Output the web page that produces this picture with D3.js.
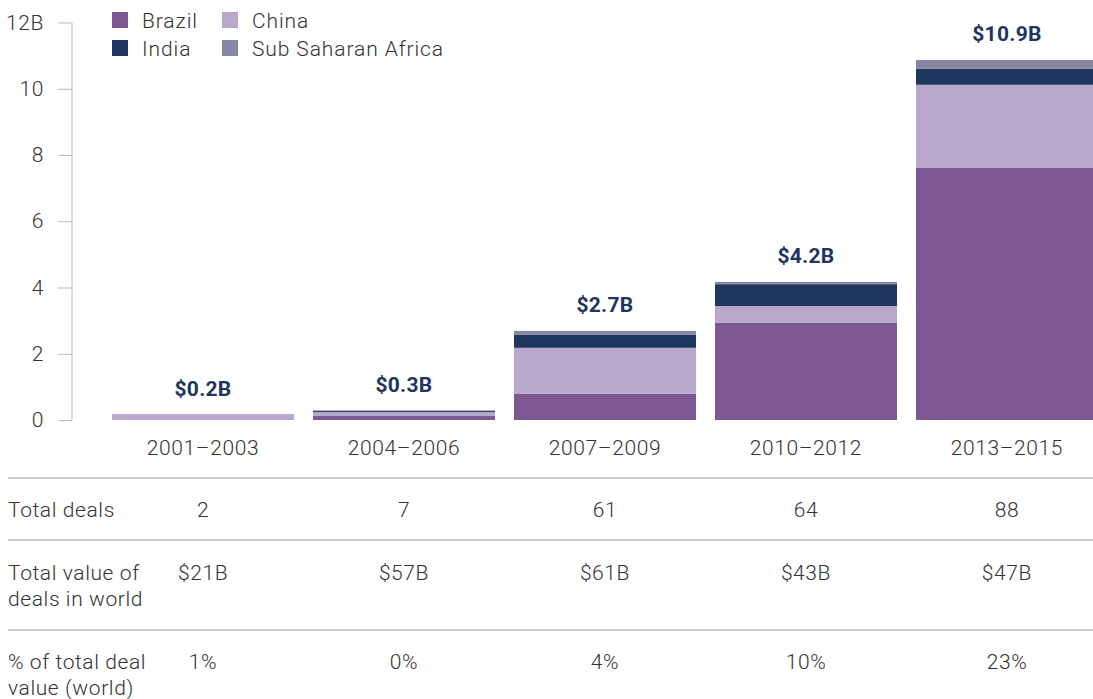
<!DOCTYPE html>
<html><head><meta charset="utf-8">
<script src="https://cdn.jsdelivr.net/npm/d3@7/dist/d3.min.js"></script>
<style>
body{margin:0;background:#fff;}
svg{display:block;}
text{font-family:Roboto,"Noto Sans",sans-serif;}
</style></head>
<body><svg id="c" width="1093" height="699"></svg>
<script>
const categories = ["2001–2003","2004–2006","2007–2009","2010–2012","2013–2015"];
const seriesNames = ["Brazil","China","India","Sub Saharan Africa"];
const brazil = [0.0, 0.12, 0.79, 2.93, 7.61];
const china  = [0.18, 0.12, 1.39, 0.51, 2.51];
const india  = [0.0, 0.03, 0.39, 0.66, 0.48];
const ssa    = [0.0, 0.02, 0.12, 0.07, 0.27];
const totalLabels = ["$0.2B","$0.3B","$2.7B","$4.2B","$10.9B"];
const yTicks = [0,2,4,6,8,10,12];
const totalDeals = ["2","7","61","64","88"];
const worldValue = ["$21B","$57B","$61B","$43B","$47B"];
const shareWorld = ["1%","0%","4%","10%","23%"];
const rowLabels = [["Total deals"],["Total value of","deals in world"],["% of total deal","value (world)"]];
const colors = ["#7e5893","#b9a8cb","#1f365f","#8787a3"];

const svg = d3.select("#c");
const x = d3.scaleBand().domain(categories).range([102.5,1107.5]).paddingInner(0.0945).paddingOuter(0.0473);
const y = d3.scaleLinear().domain([0,12]).range([420,22.5]);

const data = categories.map((c,i)=>({cat:c, Brazil:brazil[i], China:china[i], India:india[i], "Sub Saharan Africa":ssa[i]}));
const stack = d3.stack().keys(seriesNames)(data);
const LS = "0.6px";

// y axis
const ax = svg.append("g").attr("transform","translate(72,0)")
  .call(d3.axisLeft(y).tickValues(yTicks).tickSize(14).tickPadding(14).tickFormat(d=>d===12?"12B":d));
ax.select(".domain").attr("stroke","#bbb").attr("d","M0,"+y(12)+"V"+y(0));
ax.selectAll(".tick line").attr("stroke","#bbb");
ax.selectAll(".tick text").attr("fill","#333").attr("font-size",21).attr("font-weight",300)
  .attr("font-family","Roboto").attr("letter-spacing",LS);

// bars
svg.append("g").selectAll("g").data(stack).join("g").attr("fill",(d,i)=>colors[i])
  .selectAll("rect").data(d=>d).join("rect")
  .attr("x",d=>x(d.data.cat)).attr("width",x.bandwidth())
  .attr("y",d=>y(d[1])).attr("height",d=>Math.max(0,y(d[0])-y(d[1])));

// totals
const tops = categories.map((c,i)=>brazil[i]+china[i]+india[i]+ssa[i]);
svg.append("g").selectAll("text").data(categories).join("text")
  .attr("x",d=>x(d)+x.bandwidth()/2).attr("y",(d,i)=>y(tops[i])-18.5)
  .attr("text-anchor","middle").attr("font-size",21).attr("font-weight",700).attr("letter-spacing","0.3px")
  .attr("fill","#1f365f").text((d,i)=>totalLabels[i]);

// category labels
svg.append("g").selectAll("text").data(categories).join("text")
  .attr("x",d=>x(d)+x.bandwidth()/2).attr("y",455)
  .attr("text-anchor","middle").attr("font-size",21).attr("font-weight",300).attr("letter-spacing",LS)
  .attr("fill","#333").text(d=>d);

// legend
const leg = svg.append("g");
const legPos = [[112,12],[222,12],[112,40],[222,40]];
seriesNames.forEach((s,i)=>{
  leg.append("rect").attr("x",legPos[i][0]).attr("y",legPos[i][1]).attr("width",16).attr("height",16).attr("fill",colors[i]);
  leg.append("text").attr("x",legPos[i][0]+30).attr("y",legPos[i][1]+15.5).attr("font-size",21).attr("font-weight",300)
    .attr("letter-spacing","0.9px").attr("fill","#333").text(s);
});

// table
const lineYs = [478,540,630];
svg.append("g").selectAll("line").data(lineYs).join("line")
  .attr("x1",8).attr("x2",1093).attr("y1",d=>d).attr("y2",d=>d)
  .attr("stroke","#bbb").attr("stroke-width",1.5);
const rowBase = [517,580,669];
const rowVals = [totalDeals, worldValue, shareWorld];
const tbl = svg.append("g");
rowLabels.forEach((lines,r)=>{
  lines.forEach((t,k)=>{
    tbl.append("text").attr("x",8).attr("y",rowBase[r]+k*26).attr("font-size",21).attr("font-weight",300)
      .attr("letter-spacing",LS).attr("fill","#333").text(t);
  });
  tbl.selectAll(null).data(categories).join("text")
    .attr("x",d=>x(d)+x.bandwidth()/2).attr("y",rowBase[r])
    .attr("text-anchor","middle").attr("font-size",21).attr("font-weight",300).attr("letter-spacing",LS).attr("fill","#333")
    .text((d,i)=>rowVals[r][i]);
});
</script></body></html>
